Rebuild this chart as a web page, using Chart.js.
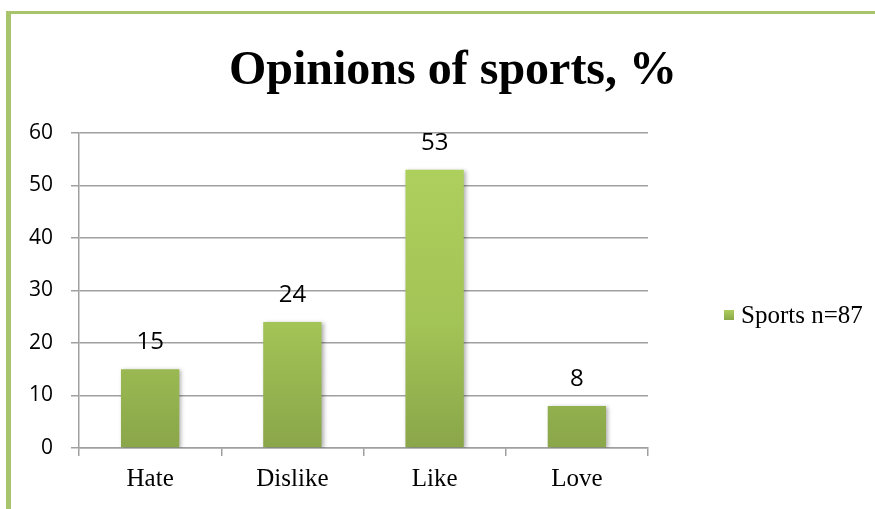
<!DOCTYPE html>
<html>
<head>
<meta charset="utf-8">
<script src="https://cdn.jsdelivr.net/npm/chart.js@4.4.0/dist/chart.umd.min.js"></script>
<style>
  html, body { margin: 0; padding: 0; background: #fff; }
  #wrap { position: relative; width: 875px; height: 509px; overflow: hidden; }
  #frame {
    position: absolute; left: 6px; top: 11px; right: -10px; bottom: -10px;
    border-top: 3px solid #a8c46c; border-left: 5px solid #a8c46c;
  }
  canvas { position: absolute; left: 0; top: 0; }
</style>
</head>
<body>
<div id="wrap">
  <div id="frame"></div>
  <canvas id="chart" width="875" height="509"></canvas>
</div>
<script>
const categories = ['Hate', 'Dislike', 'Like', 'Love'];
const sportsValues = [15, 24, 53, 8];
const seriesLabel = 'Sports n=87';
const chartTitle = 'Opinions of sports, %';
const yTicks = [0, 10, 20, 30, 40, 50, 60];

const gridColor = '#a0a0a0';

// title, legend and value labels drawn by hand so they sit where the original has them
const extras = {
  id: 'extras',
  beforeDatasetsDraw(chart) {
    chart.ctx.save();
    chart.ctx.shadowColor = 'rgba(0,0,0,0.3)';
    chart.ctx.shadowBlur = 4;
    chart.ctx.shadowOffsetX = 2;
    chart.ctx.shadowOffsetY = 1;
  },
  afterDatasetsDraw(chart) {
    const ctx = chart.ctx;
    ctx.restore();
    ctx.save();
    ctx.fillStyle = '#000';
    ctx.textAlign = 'center';
    ctx.textBaseline = 'middle';
    ctx.font = '24px "Open Sans"';
    chart.getDatasetMeta(0).data.forEach((bar, i) => {
      ctx.fillText(String(sportsValues[i]), bar.x, bar.y - 27);
    });
    ctx.restore();
  },
  afterDraw(chart) {
    const ctx = chart.ctx;
    ctx.save();
    ctx.fillStyle = '#000';
    ctx.textAlign = 'center';
    ctx.textBaseline = 'alphabetic';
    ctx.font = 'bold 48px "Liberation Serif"';
    ctx.fillText(chartTitle, 453, 84);

    // legend
    const g = ctx.createLinearGradient(0, 310, 0, 320);
    g.addColorStop(0, '#acce5c');
    g.addColorStop(1, '#8ca84a');
    ctx.fillStyle = g;
    ctx.fillRect(724, 310, 10, 10);
    ctx.fillStyle = '#000';
    ctx.textAlign = 'left';
    ctx.textBaseline = 'middle';
    ctx.font = '25px "Liberation Serif"';
    ctx.fillText(seriesLabel, 741, 316);
    ctx.restore();
  }
};

const ctx = document.getElementById('chart').getContext('2d');
new Chart(ctx, {
  type: 'bar',
  data: {
    labels: categories,
    datasets: [{
      label: seriesLabel,
      data: sportsValues,
      backgroundColor: (c) => {
        const area = c.chart.chartArea;
        if (!area) return '#9cbc52';
        const grad = c.chart.ctx.createLinearGradient(0, area.top, 0, area.bottom);
        grad.addColorStop(0, '#b0d25e');
        grad.addColorStop(0.6, '#a3c456');
        grad.addColorStop(1, '#8aa64a');
        return grad;
      },
      borderWidth: 0,
      barPercentage: 0.41,
      categoryPercentage: 1.0
    }]
  },
  options: {
    responsive: false,
    animation: false,
    layout: { padding: { left: 0, top: 133, right: 227, bottom: 0 } },
    plugins: {
      legend: { display: false },
      title: { display: false },
      tooltip: { enabled: false }
    },
    scales: {
      x: {
        afterFit: (scale) => { scale.height = 61; },
        grid: {
          offset: true,
          drawOnChartArea: false,
          drawTicks: true,
          tickLength: 8,
          color: gridColor,
          lineWidth: 1.5
        },
        border: { display: true, color: gridColor, width: 1.5 },
        ticks: {
          color: '#000',
          padding: 8,
          font: { family: 'Liberation Serif', size: 25 }
        }
      },
      y: {
        min: 0,
        max: 60,
        afterFit: (scale) => { scale.width = 79; },
        afterBuildTicks: (scale) => { scale.ticks = yTicks.map(v => ({ value: v })); },
        grid: {
          color: gridColor,
          lineWidth: 1.5,
          drawTicks: true,
          tickLength: 8
        },
        border: { display: true, color: gridColor, width: 1.5 },
        ticks: {
          color: '#000',
          padding: 18,
          font: { family: 'Open Sans', size: 21 }
        }
      }
    }
  },
  plugins: [extras]
});
</script>
</body>
</html>
